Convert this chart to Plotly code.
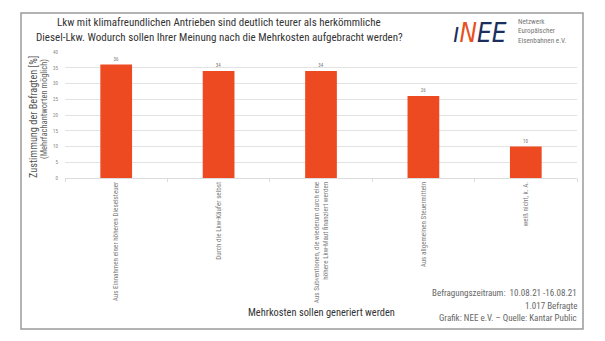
import plotly.graph_objects as go

categories = [
    "Aus Einnahmen einer höheren Dieselsteuer",
    "Durch die Lkw-Käufer selbst",
    "Aus Subventionen, die wiederum durch eine<br>höhere Lkw-Maut finanziert werden",
    "Aus allgemeinen Steuermitteln",
    "weiß nicht, k. A.",
]
values = [36, 34, 34, 26, 10]
y_ticks = [0, 5, 10, 15, 20, 25, 30, 35, 40]
title_lines = [
    "Lkw mit klimafreundlichen Antrieben sind deutlich teurer als herkömmliche",
    "Diesel-Lkw. Wodurch sollen Ihrer Meinung nach die Mehrkosten aufgebracht werden?",
]
footer_lines = [
    "Befragungszeitraum:  10.08.21 -16.08.21",
    "1.017 Befragte",
    "Grafik: NEE e.V. – Quelle: Kantar Public",
]

FONT = "Roboto Condensed, Liberation Sans Narrow, Arial Narrow, DejaVu Sans Condensed, sans-serif"
W, H = 605, 341
L, R, T, B = 65, 577, 52, 178  # plot area in pixels


def px(x):
    return (x - L) / (R - L)


def py(y):
    return (B - y) / (B - T)


fig = go.Figure(
    go.Bar(
        x=categories,
        y=values,
        marker=dict(color="#ee4a22", line=dict(width=0)),
        width=0.31,
        text=[str(v) for v in values],
        textposition="outside",
        textfont=dict(size=5, color="#777777", family=FONT),
        cliponaxis=False,
    )
)

fig.update_layout(
    width=W,
    height=H,
    margin=dict(l=L, r=W - R, t=T, b=H - B, autoexpand=False),
    paper_bgcolor="white",
    plot_bgcolor="white",
    showlegend=False,
    font=dict(family=FONT),
)
fig.update_yaxes(
    range=[0, 40],
    tickvals=y_ticks,
    tickfont=dict(size=5, color="#888888", family=FONT),
    gridcolor="#e3e3e3",
    gridwidth=1,
    zeroline=False,
    showline=False,
    ticks="",
    ticklabelstandoff=6,
    automargin=False,
)
fig.update_xaxes(
    tickangle=-90,
    tickfont=dict(size=7.1, color="#808080", family=FONT),
    showline=True,
    linecolor="#dcdcdc",
    linewidth=1,
    ticks="outside",
    tickson="boundaries",
    ticklen=3,
    tickcolor="#dcdcdc",
    automargin=False,
)

shapes = [
    dict(type="rect", xref="paper", yref="paper",
         x0=px(21), x1=px(583), y0=py(329), y1=py(13),
         line=dict(color="#9a9a9a", width=1.5), fillcolor="rgba(0,0,0,0)", layer="below"),
]
fig.update_layout(shapes=shapes)

ann = []
# Title
for txt, yy in zip(title_lines, [23, 38]):
    ann.append(dict(
        text=txt, x=px(219), y=py(yy), xref="paper", yref="paper", showarrow=False,
        xanchor="center", yanchor="middle", align="center",
        font=dict(size=11, color="#333333", family=FONT),
    ))
# Logo
ann.append(dict(
    text="<i><span style='color:#1c2e5e'>ı</span><span style='color:#e8501e'>N</span>"
         "<span style='color:#1c2e5e'>EE</span></i>",
    x=px(480), y=py(33), xref="paper", yref="paper", showarrow=False,
    xanchor="center", yanchor="middle",
    font=dict(size=26, color="#1c2e5e", family="DejaVu Sans Condensed, sans-serif"),
))
ann.append(dict(
    text="Netzwerk<br>Europäischer<br>Eisenbahnen e.V.",
    x=px(516), y=py(31), xref="paper", yref="paper", showarrow=False,
    xanchor="left", yanchor="middle", align="left",
    font=dict(size=7.2, color="#777777", family=FONT),
))
# Y axis title
ann.append(dict(
    text="Zustimmung der Befragten [%]",
    x=px(33), y=py(117), xref="paper", yref="paper", showarrow=False,
    xanchor="center", yanchor="middle", textangle=-90,
    font=dict(size=10.3, color="#555555", family=FONT),
))
ann.append(dict(
    text="(Mehrfachantworten möglich)",
    x=px(44), y=py(109), xref="paper", yref="paper", showarrow=False,
    xanchor="center", yanchor="middle", textangle=-90,
    font=dict(size=8.5, color="#666666", family=FONT),
))
# X axis title
ann.append(dict(
    text="Mehrkosten sollen generiert werden",
    x=px(321), y=py(312), xref="paper", yref="paper", showarrow=False,
    xanchor="center", yanchor="middle",
    font=dict(size=10.4, color="#333333", family=FONT),
))
# Footer notes
for txt, yy in zip(footer_lines, [293, 306, 318]):
    ann.append(dict(
        text=txt, x=px(579), y=py(yy), xref="paper", yref="paper", showarrow=False,
        xanchor="right", yanchor="middle", align="right",
        font=dict(size=9, color="#666666", family=FONT),
    ))
fig.update_layout(annotations=ann)

fig.write_html("out.html")
